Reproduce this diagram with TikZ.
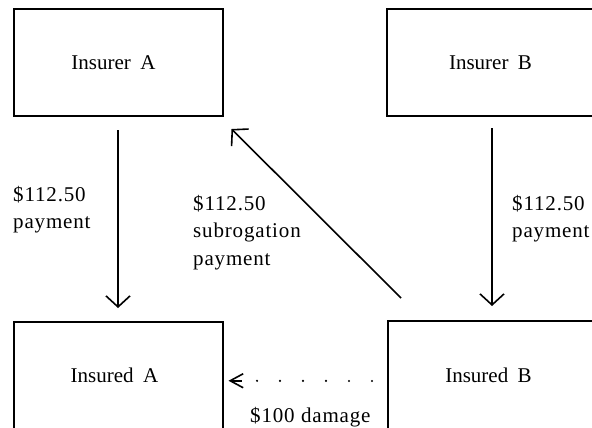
\documentclass[tikz,border=0pt]{standalone}
\usepackage{fontspec}
\setmainfont{Liberation Serif}
\usetikzlibrary{arrows.meta,calc}
\begin{document}
\begin{tikzpicture}[x=1pt,y=-1pt,
  party/.style={draw, line width=2pt, minimum width=209pt, minimum height=107pt,
    inner sep=0pt, font=\fontsize{21}{25}\selectfont},
  nudge/.style={execute at begin node={\hspace*{-#1}}},
  flow/.style={line width=1.6pt,
    -{Straight Barb[length=11pt,width=24pt,line width=1.6pt]}},
  lbl/.style={align=left, anchor=base west, inner sep=0pt,
    font=\fontsize{21}{27}\selectfont\addfontfeature{LetterSpace=4}},
  dotline/.style={line width=2.4pt, line cap=round,
    dash pattern=on 0pt off 23pt on 0pt off 23pt on 0pt off 23pt
                 on 0pt off 23pt on 0pt off 23pt on 0pt off 200pt},
  dottip/.style={line width=1.6pt,
    -{Straight Barb[length=13pt,width=14pt,line width=1.6pt]}},
]
\useasboundingbox (0,0) rectangle (592,428);
\clip (0,0) rectangle (592,428);

% the four parties
\node[party, nudge=9pt] (insurerA) at (118,62.5) {Insurer\hspace{0.45em}A};
\node[party, minimum width=207pt] (insurerB) at (490.5,62.5) {Insurer\hspace{0.45em}B};
\node[party, nudge=7pt, minimum height=107.5pt] (insuredA) at (118,375.75) {Insured\hspace{0.45em}A};
\node[party, nudge=6pt, minimum width=207pt, minimum height=108pt] (insuredB) at (491.5,375) {Insured\hspace{0.45em}B};

% payments from each insurer to its insured
\draw[flow, shorten <=13pt, shorten >=13pt] (insurerA) -- (insuredA);
\coordinate (bTop) at ($(insurerB.south)+(1.5,0)$);
\draw[flow, shorten <=11pt, shorten >=14pt] (bTop) -- (bTop |- insuredB.north);

% subrogation payment back to insurer A
\coordinate (subStart) at ($(insuredB.north west)+(14,-22)$);
\coordinate (subEnd) at ($(insurerA.south east)+(8,12)$);
\draw[flow] (subStart) -- (subEnd);

% damage caused by insured B
\coordinate (dmgStart) at ($(insuredB.west)+(-15,6)$);
\coordinate (dmgEnd) at ($(insuredA.east)+(5,5)$);
\draw[dotline] (dmgStart) -- (dmgEnd);
\draw[dottip] ($(dmgEnd)+(13,0)$) -- (dmgEnd);

% labels (anchored on the baseline of their last line)
\node[lbl] (lblA) at (13,228) {\$112.50\\payment};
\node[lbl, font=\fontsize{21}{27.5}\selectfont\addfontfeature{LetterSpace=4}] (lblSub) at (193,265) {\$112.50\\subrogation\\payment};
\node[lbl] (lblB) at (512,237) {\$112.50\\payment};
\node[lbl] (lblDmg) at (250,422) {\$100\hspace{0.3em}damage};
\end{tikzpicture}
\end{document}
